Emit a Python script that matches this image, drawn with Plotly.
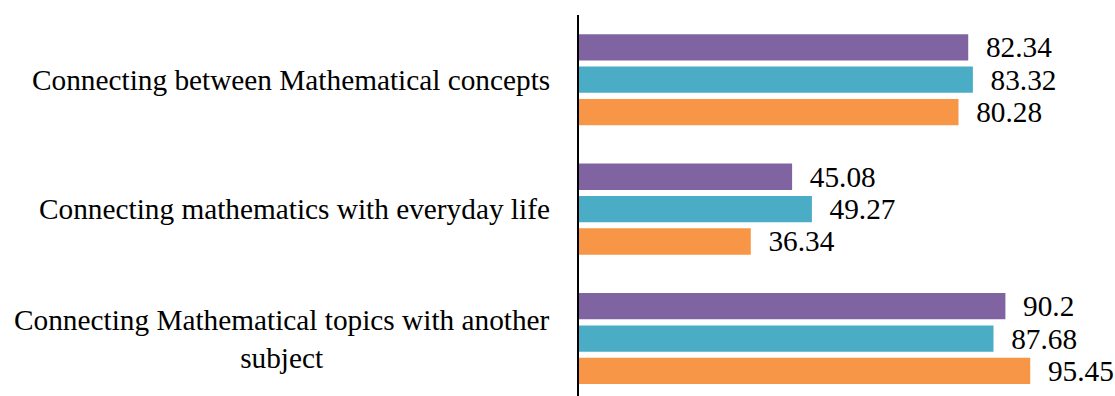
import plotly.graph_objects as go

categories = [
    "Connecting between Mathematical concepts",
    "Connecting mathematics with everyday life",
    "Connecting Mathematical topics with another<br>subject",
]
series_names = ["Series 1", "Series 2", "Series 3"]
series_a = [82.34, 45.08, 90.2]
series_b = [83.32, 49.27, 87.68]
series_c = [80.28, 36.34, 95.45]
colors = ["#8064A2", "#4BACC6", "#F79646"]

FONT = "Times New Roman"
FS = 29.3

fig = go.Figure()
for name, vals, col in zip(series_names, [series_a, series_b, series_c], colors):
    fig.add_trace(go.Bar(
        y=list(range(len(categories))),
        x=vals,
        orientation="h",
        name=name,
        marker=dict(color=col, line=dict(width=0)),
        text=["\u00a0\u00a0" + f"{v:g}" for v in vals],
        textposition="outside",
        constraintext="none",
        textfont=dict(family=FONT, size=FS, color="black"),
        cliponaxis=False,
    ))

for i, cat in enumerate(categories):
    fig.add_annotation(
        x=0, y=i, xref="x", yref="y",
        text=cat, showarrow=False,
        xanchor="right", yanchor="middle", align="center",
        xshift=-27,
        font=dict(family=FONT, size=FS, color="black"),
    )

fig.update_layout(
    width=1115, height=396,
    margin=dict(l=579, r=16, t=15, b=0),
    paper_bgcolor="white", plot_bgcolor="white",
    barmode="group", bargap=0.25, bargroupgap=0.187,
    showlegend=False,
    font=dict(family=FONT, size=FS, color="black"),
)
fig.update_xaxes(range=[0, 110], visible=False, showgrid=False, zeroline=False)
fig.update_yaxes(
    range=[2.444, -0.5], showticklabels=False, showgrid=False, zeroline=False,
    showline=True, linecolor="black", linewidth=2, ticks="",
)

fig.write_html("out.html")
